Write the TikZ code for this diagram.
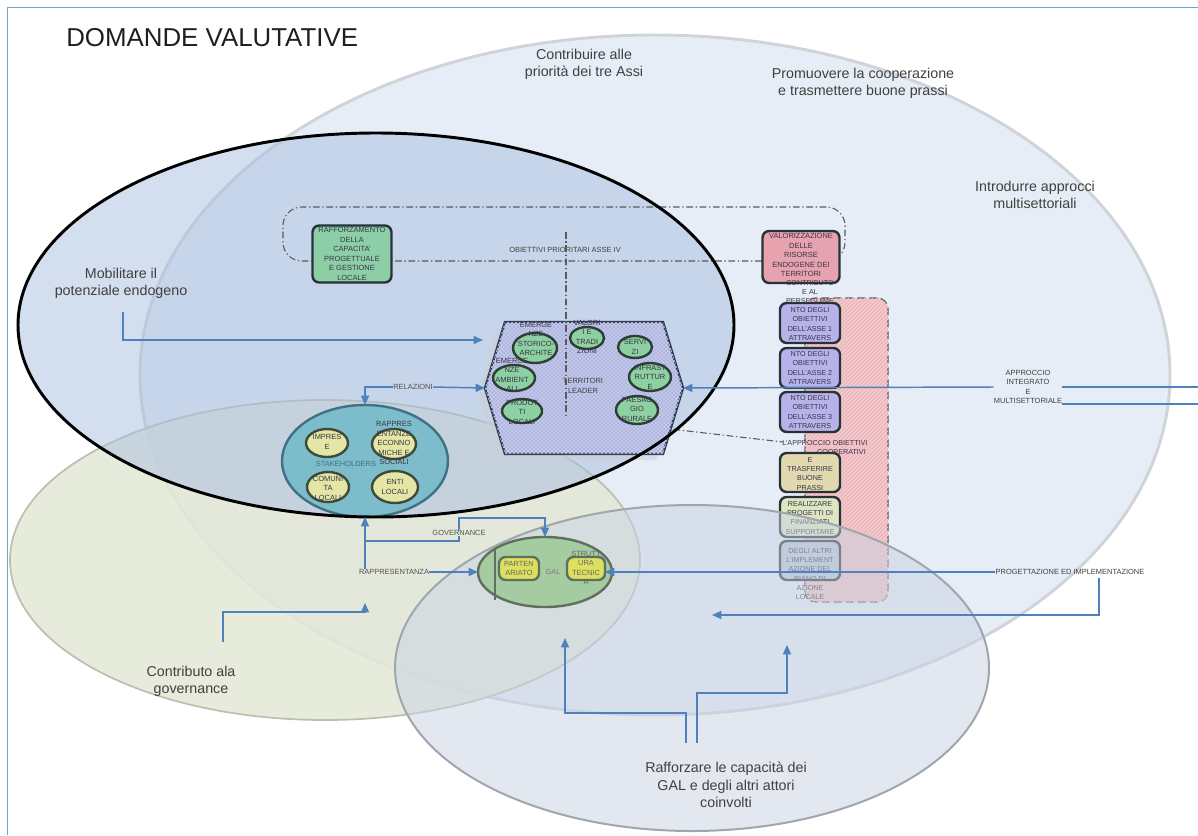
\documentclass[tikz,border=0pt]{standalone}
\usepackage{fontspec}
\setmainfont{Liberation Sans}
\usetikzlibrary{shapes.geometric,patterns,arrows.meta}
\definecolor{frameblue}{HTML}{7BA0CF}
\definecolor{bigfill}{HTML}{E7EDF6}
\definecolor{bigdraw}{HTML}{D0D4D9}
\definecolor{greenfill}{HTML}{E3E8D6}
\definecolor{greendraw}{HTML}{BCC0AE}
\definecolor{blackfill}{HTML}{A9BEE0}
\definecolor{botfill}{HTML}{C8D3E3}
\definecolor{botdraw}{HTML}{A0A6AD}
\definecolor{connblue}{HTML}{4F81BD}
\definecolor{txt}{HTML}{404040}
\definecolor{boxtxt}{HTML}{3A3548}
\definecolor{ddgrey}{HTML}{5A5A5A}
\definecolor{greenbox}{HTML}{8CCFA6}
\definecolor{boxdraw}{HTML}{263238}
\definecolor{pinkbox}{HTML}{E6A2AE}
\definecolor{purplebox}{HTML}{B8B2EA}
\definecolor{tanbox}{HTML}{E3D9B0}
\definecolor{ygbox}{HTML}{DDE6C0}
\definecolor{greybox}{HTML}{B8C6D6}
\definecolor{pinkcol}{HTML}{EEB9BE}
\definecolor{pinkline}{HTML}{F7D8DA}
\definecolor{hexfill}{HTML}{ADB4DE}
\definecolor{hexhatch}{HTML}{C9CDEC}
\definecolor{hexdraw}{HTML}{2E3B55}
\definecolor{circfill}{HTML}{8DD0A2}
\definecolor{circdraw}{HTML}{2C3E35}
\definecolor{stkfill}{HTML}{7CBCCB}
\definecolor{stkdraw}{HTML}{3F7282}
\definecolor{yelfill}{HTML}{E3E6A4}
\definecolor{yeldraw}{HTML}{3F4A3A}
\definecolor{galfill}{HTML}{A5CBA1}
\definecolor{galdraw}{HTML}{5F6F60}
\definecolor{galbox}{HTML}{DDE05E}
\begin{document}
\begin{tikzpicture}[x=0.75pt,y=-0.75pt,
 tiny/.style={font=\fontsize{5.6}{7.1}\selectfont,text=txt,align=center,inner sep=0pt},
 btxt/.style={tiny,text=boxtxt},
 ctxt/.style={btxt,font=\fontsize{5.4}{6.8}\selectfont},
 lbl/.style={font=\fontsize{10.7}{13}\selectfont,text=txt,align=center,inner sep=0pt},
 esize/.style 2 args={minimum width=#1*1.5pt,minimum height=#2*1.5pt},
 bsize/.style 2 args={minimum width=#1*0.75pt,minimum height=#2*0.75pt},
 shp/.style={inner sep=0pt,outer sep=0pt},
 circ/.style={shp,ellipse,draw=circdraw,fill=circfill,line width=1.8pt},
 yel/.style={shp,ellipse,draw=yeldraw,fill=yelfill,line width=1.8pt},
 rbox/.style={shp,rectangle,rounded corners=5pt,draw=boxdraw,line width=1.8pt},
 cl/.style={draw=connblue,line width=1.1pt},
 arr/.style={-{Triangle[length=7pt,width=6pt]}},
 rarr/.style={{Triangle[length=7pt,width=6pt]}-},
 dd/.style={draw=ddgrey,line width=0.8pt,dash pattern=on 5pt off 2pt on 1pt off 2pt},
]
\useasboundingbox (0,0) rectangle (1198,835);
\fill[white] (0,0) rectangle (1198,835);
\draw[frameblue,line width=0.8pt] (7.5,835) -- (7.5,7.5) -- (1198,7.5);

% large areas
\draw[fill=bigfill,draw=bigdraw,line width=2.2pt] (655,375) ellipse [x radius=515,y radius=340];
\draw[fill=greenfill,fill opacity=0.85,draw=greendraw,line width=1.3pt] (325,560) ellipse [x radius=315,y radius=160];
\fill[blackfill,fill opacity=0.5] (376,325) ellipse [x radius=358,y radius=192];

% objectives box
\node[shp,dd,rounded corners=14pt,bsize={562}{54}] (objbox) at (564,234) {};
\node[tiny] (objlbl) at (565,250) {OBIETTIVI PRIORITARI ASSE IV};
\coordinate (v1) at (566,232);
\coordinate (v2) at (566,417);
\coordinate (v3) at (783,442);
\draw[dd] (v1) -- (v2) -- (v3);

\node[rbox,fill=greenbox,bsize={79}{57}] (raff) at (352,254) {};
\node[btxt] (raffT) at (raff) {RAFFORZAMENTO\\DELLA\\CAPACITA'\\PROGETTUALE\\E GESTIONE\\LOCALE};
\node[rbox,fill=pinkbox,bsize={77}{52}] (valo) at (801,257) {};
\node[btxt] (valoT) at (801,255) {VALORIZZAZIONE\\DELLE\\RISORSE\\ENDOGENE DEI\\TERRITORI};

% hexagon territori leader
\coordinate (hxA) at (505,322);
\coordinate (hxB) at (663,322);
\coordinate (hexR) at (683,388);
\coordinate (hxC) at (663,454);
\coordinate (hxD) at (505,454);
\coordinate (hexL) at (485,388);
\fill[hexdraw!25,opacity=0.5] (498,328) -- (656,328) -- (676,394) -- (656,460) -- (498,460) -- (478,394) -- cycle;
\filldraw[fill=hexfill,draw=hexdraw,line width=1.8pt] (hxA) -- (hxB) -- (hexR) -- (hxC) -- (hxD) -- (hexL) -- cycle;
\fill[pattern=crosshatch,pattern color=hexhatch] (hxA) -- (hxB) -- (hexR) -- (hxC) -- (hxD) -- (hexL) -- cycle;
\draw[dd] (v1) -- (v2);
\node[tiny] (terr) at (583,386) {TERRITORI\\LEADER};

\node[circ,esize={22}{15}] (arch) at (535,348) {};
\node[btxt] (archT) at (536,339) {EMERGE\\NZE\\STORICO-\\ARCHITE};
\node[circ,esize={17}{11}] (trad) at (587,338) {};
\node[btxt] (tradT) at (587,337) {VALORI\\I E\\TRADI\\ZIONI};
\node[circ,esize={17}{11}] (serv) at (635,347) {};
\node[btxt] (servT) at (635,347) {SERVI\\ZI};
\node[circ,esize={21}{14}] (infra) at (650,377) {};
\node[btxt] (infraT) at (650,377) {INFRAST\\RUTTUR\\E};
\node[circ,esize={21}{13}] (amb) at (514,378) {};
\node[btxt] (ambT) at (512,375) {EMERGE\\NZE\\AMBIENT\\ALI};
\node[circ,esize={20}{12}] (prod) at (522,411) {};
\node[btxt] (prodT) at (522,412) {PRODOT\\TI\\LOCALI};
\node[circ,esize={21}{14}] (paes) at (637,410) {};
\node[btxt] (paesT) at (637,409) {PAESAG\\GIO\\RURALE};

% stakeholders
\node[shp,ellipse,draw=stkdraw,fill=stkfill,line width=1.8pt,esize={83}{56}] (stk) at (365,461) {};
\node[yel,esize={21}{14}] (impr) at (327,443) {};
\node[btxt] (imprT) at (327,442) {IMPRES\\E};
\node[yel,esize={22}{15}] (rapp) at (394,444) {};
\node[btxt] (rappT) at (394,443) {RAPPRES\\ENTANZE\\ECONNO\\MICHE E\\SOCIALI};
\node[yel,esize={21}{15}] (comu) at (328,487) {};
\node[btxt] (comuT) at (328,488) {COMUNI\\TA\\LOCALI};
\node[yel,esize={23}{16}] (enti) at (395,487) {};
\node[btxt] (entiT) at (395,487) {ENTI\\LOCALI};
\node[tiny,text=stkdraw] (stkT) at (346,464) {STAKEHOLDERS};

% right column
\node[shp,rectangle,rounded corners=8pt,bsize={83}{304},fill=pinkcol,draw=ddgrey,line width=0.9pt,dash pattern=on 6pt off 3pt] (pcol) at (846.5,450) {};
\fill[pattern=north east lines,pattern color=pinkline,rounded corners=8pt] (pcol.south west) rectangle (pcol.north east);
\node[rbox,fill=purplebox,bsize={60}{40}] (b1) at (810,323) {};
\node[rbox,fill=purplebox,bsize={60}{40}] (b2) at (810,368) {};
\node[rbox,fill=purplebox,bsize={60}{40}] (b3) at (810,412) {};
\node[rbox,fill=tanbox,bsize={60}{39}] (b4) at (810,472.5) {};
\node[rbox,fill=ygbox,bsize={60}{40}] (b5) at (810,517) {};
\node[rbox,fill=greybox,bsize={60}{39}] (b6) at (810,560.5) {};
\node[ctxt] (t0) at (810,292) {CONTRIBUTO\\E AL\\PERSEGUIME};
\node[ctxt] (t1) at (810,324) {NTO DEGLI\\OBIETTIVI\\DELL'ASSE 1\\ATTRAVERS};
\node[ctxt] (t2) at (810,368) {NTO DEGLI\\OBIETTIVI\\DELL'ASSE 2\\ATTRAVERS};
\node[ctxt] (t3) at (810,412) {NTO DEGLI\\OBIETTIVI\\DELL'ASSE 3\\ATTRAVERS};
\node[ctxt,anchor=west] (t4a) at (782,443) {L'APPROCCIO OBIETTIVI};
\node[ctxt,anchor=east] (t4b) at (866,452) {COOPERATIVI};
\node[ctxt] (t4) at (810,474) {E\\TRASFERIRE\\BUONE\\PRASSI};
\node[ctxt] (t5) at (810,518) {REALIZZARE\\PROGETTI DI\\FINANZIATI\\SUPPORTARE};
\node[ctxt] (t6) at (810,574) {DEGLI ALTRI\\L'IMPLEMENT\\AZIONE DEL\\PIANO DI\\AZIONE\\LOCALE};

% bottom area
\draw[fill=botfill,fill opacity=0.5,draw=botdraw,line width=1.5pt] (692,668) ellipse [x radius=297,y radius=163];

% GAL
\node[shp,ellipse,draw=galdraw,fill=galfill,line width=1.8pt,esize={67}{35}] (gal) at (545,572) {};
\coordinate (g1) at (495,548);
\coordinate (g2) at (495,600);
\draw[galdraw,line width=1.5pt] (g1) -- (g2);
\node[rbox,fill=galbox,draw=galdraw,bsize={40}{23}] (part) at (519,568.5) {};
\node[tiny,text=txt!80] (partT) at (part) {PARTEN\\ARIATO};
\node[tiny,text=txt!70] (galT) at (553,572) {GAL};
\node[rbox,fill=galbox,draw=galdraw,bsize={38}{23}] (strt) at (586,568.5) {};
\node[tiny,text=txt!80] (strtT) at (586,568) {STRUTT\\URA\\TECNIC\\A};

% black outline
\draw[black,line width=2.2pt] (376,325) ellipse [x radius=358,y radius=192];

% connectors
\coordinate (mobS) at (123,312);
\coordinate (mobT) at (483,340);
\draw[cl,arr] (mobS) |- (mobT);

\node[tiny,text=txt!90] (rel) at (413,387) {RELAZIONI};
\draw[cl,rarr] (stk.north) |- (rel.west);
\draw[cl,arr] (rel.east) -- (hexL);

\node[tiny,text=txt!90] (rap) at (394,572) {RAPPRESENTANZA};
\draw[cl,rarr] (stk.south) -- (stk.south |- rap.north);
\draw[cl,arr] (rap.east) -- (gal.west);

\node[tiny,text=txt!90] (gov) at (459,533) {GOVERNANCE};
\coordinate (gj) at (365,541);
\coordinate (gt) at (545,518);
\draw[cl] (gj) -| (gov);
\draw[cl,arr] (gov) |- (gt) -- (gal.north);

\node[tiny] (appr) at (1028,387) {APPROCCIO\\INTEGRATO\\E\\MULTISETTORIALE};
\coordinate (re1) at (1198,388);
\coordinate (re2) at (1198,404);
\draw[cl,arr] (appr.west) -- (hexR);
\draw[cl] (appr.east) -- (appr.east -| re1);
\draw[cl] (appr.east |- re2) -- (re2);

\node[tiny] (prog) at (1070,572) {PROGETTAZIONE ED IMPLEMENTAZIONE};
\coordinate (p1) at (1099,578);
\coordinate (ptip) at (712,615);
\draw[cl,arr] (prog.west) -- (prog.west -| strt.east);
\draw[cl,arr] (p1) |- (ptip);

\coordinate (c1) at (223,642);
\coordinate (cgc) at (365,612);
\coordinate (c2) at (365,603);
\draw[cl,arr] (c1) |- (cgc) -- (c2);

\coordinate (r1) at (686,743);
\coordinate (r1c) at (565,713);
\coordinate (r1t) at (565,638);
\draw[cl,arr] (r1) |- (r1c) -- (r1t);
\coordinate (r2) at (697,743);
\coordinate (r2c) at (787,693);
\coordinate (r2t) at (787,645);
\draw[cl,arr] (r2) |- (r2c) -- (r2t);

% labels
\node[font=\fontsize{19.4}{23}\selectfont,text=black!88,anchor=west,inner sep=0pt] (title) at (66,38) {DOMANDE VALUTATIVE};
\node[lbl] (l1) at (584,64) {Contribuire alle\\priorità dei tre Assi};
\node[lbl] (l2) at (863,83) {Promuovere la cooperazione\\e trasmettere buone prassi};
\node[lbl] (l3) at (1035,195) {Introdurre approcci\\multisettoriali};
\node[lbl] (l4) at (121,283) {Mobilitare il\\potenziale endogeno};
\node[lbl] (l5) at (191,681) {Contributo ala\\governance};
\node[lbl] (l6) at (726,785) {Rafforzare le capacità dei\\GAL e degli altri attori\\coinvolti};
\end{tikzpicture}
\end{document}
